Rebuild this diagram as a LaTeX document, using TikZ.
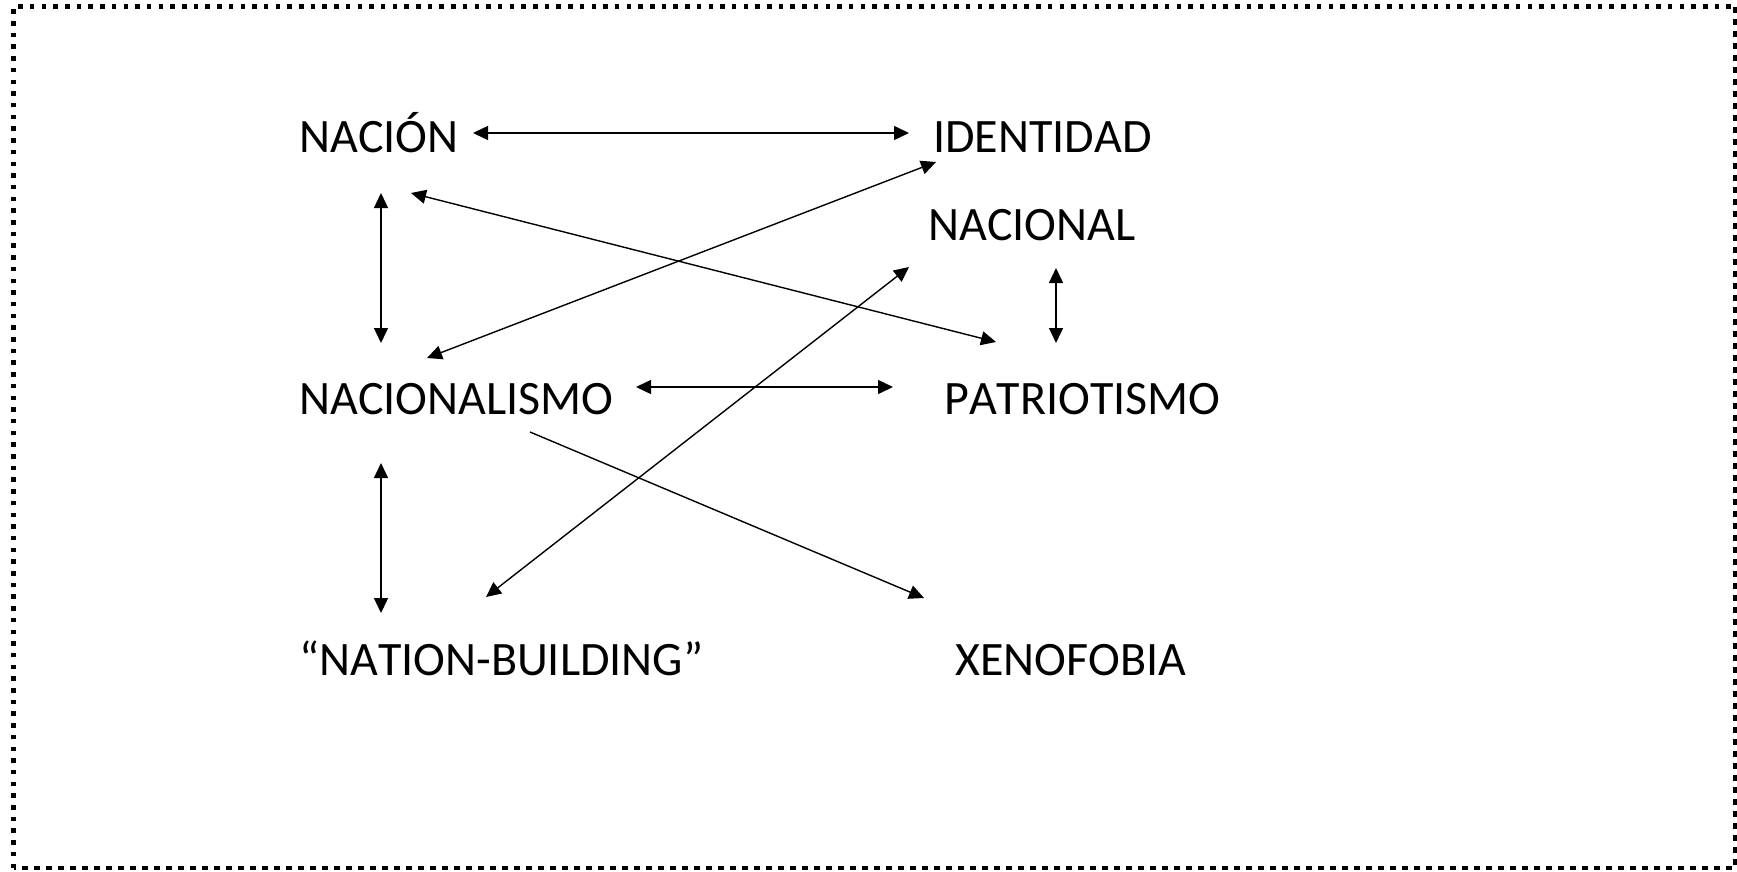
\documentclass[tikz,border=0pt]{standalone}
\usepackage{fontspec}
\setmainfont[Kerning=Off]{Carlito}
\usetikzlibrary{arrows.meta}
\tikzset{
  lbl/.style={anchor=base west, inner sep=0pt, font=\fontsize{48}{58}\selectfont},
  conn/.style={line width=1.4pt, {Triangle[length=15pt,width=14pt]}-{Triangle[length=15pt,width=14pt]}},
  oneway/.style={line width=1.4pt, -{Triangle[length=15pt,width=14pt]}},
  dotborder/.style={line width=4.5pt, dash pattern=on 4.5pt off 7.2pt},
  dashborder/.style={line width=3.5pt, dash pattern=on 6.5pt off 5.5pt}
}
\begin{document}
\begin{tikzpicture}[x=1pt,y=-1pt]
\useasboundingbox (0,0) rectangle (1737,872);
% border
\draw[dotborder] (13.7,868) -- (13.7,6.7) -- (1735,6.7);
\draw[dashborder] (1735,6.7) -- (1735,868) -- (13.7,868);
% labels
\node[lbl] (nacion) at (299,153) {NACIÓN};
\node[lbl] (identidad) at (933,153) {IDENTIDAD};
\node[lbl] (nacional) at (928,240) {NACIONAL};
\node[lbl] (nacionalismo) at (299,414) {NACIONALISMO};
\node[lbl] (patriotismo) at (944,414) {PATRIOTISMO};
\node[lbl] (nb) at (299,675) {“NATION-BUILDING”};
\node[lbl] (xeno) at (955,675) {XENOFOBIA};
% connector end points
\coordinate (a1) at (473,133); \coordinate (a2) at (909,133);
\coordinate (b1) at (381,193); \coordinate (b2) at (381,343);
\coordinate (c1) at (411,193); \coordinate (c2) at (996,342);
\coordinate (d1) at (936,162); \coordinate (d2) at (427,358);
\coordinate (e1) at (1056,268); \coordinate (e2) at (1056,343);
\coordinate (f1) at (636,387); \coordinate (f2) at (893,387);
\coordinate (g1) at (530,432); \coordinate (g2) at (924,598);
\coordinate (h1) at (909,267); \coordinate (h2) at (486,597);
\coordinate (i1) at (381,463); \coordinate (i2) at (381,613);
% connectors
\draw[conn] (a1) -- (a2);
\draw[conn] (b1) -- (b2);
\draw[conn] (c1) -- (c2);
\draw[conn] (d1) -- (d2);
\draw[conn] (e1) -- (e2);
\draw[conn] (f1) -- (f2);
\draw[oneway] (g1) -- (g2);
\draw[conn] (h1) -- (h2);
\draw[conn] (i1) -- (i2);
\end{tikzpicture}
\end{document}
